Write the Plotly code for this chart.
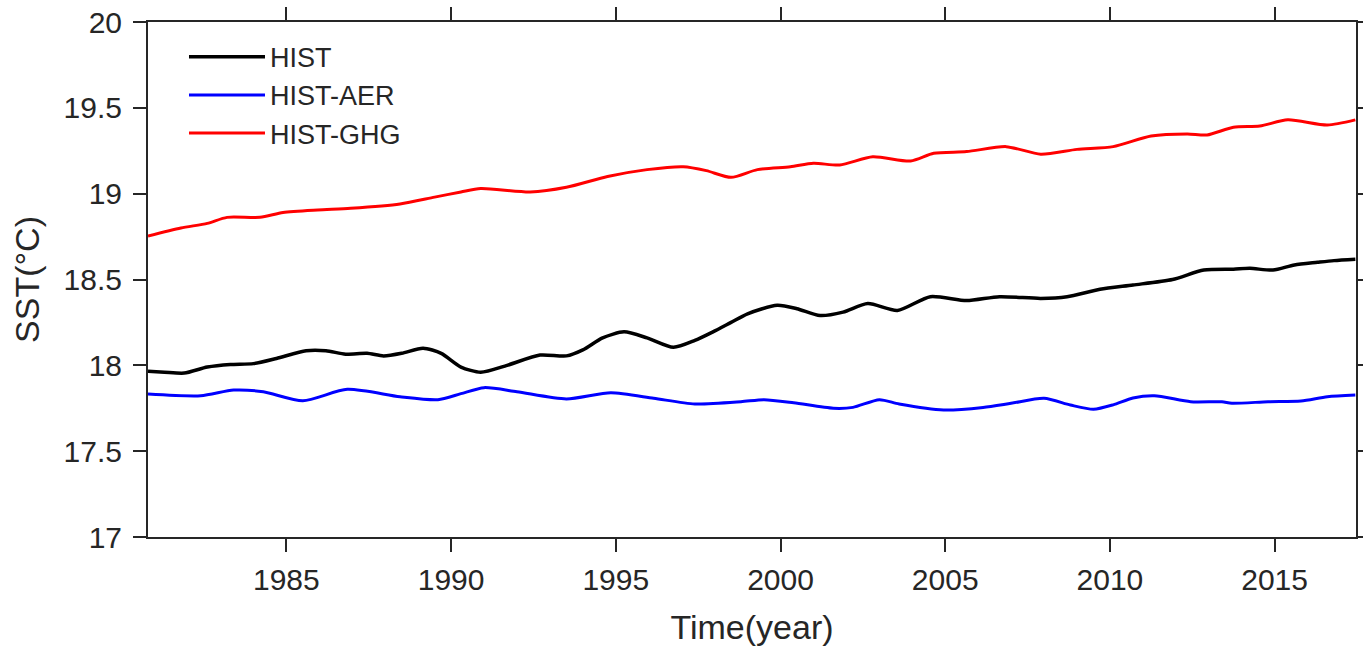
import plotly.graph_objects as go

# --- series data (annual-mean SST, °C) ---
hist_t = [1980.8, 1981.3, 1981.9, 1982.6, 1983.3, 1984.0, 1984.7, 1985.6, 1986.2, 1986.8,
          1987.45, 1987.95, 1988.5, 1989.15, 1989.7, 1990.3, 1990.9, 1991.7, 1992.7, 1993.5,
          1994.0, 1994.6, 1995.25, 1995.95, 1996.75, 1997.4, 1997.95, 1998.5, 1999.0, 1999.9,
          2000.5, 2001.2, 2001.9, 2002.65, 2003.55, 2004.55, 2005.65, 2006.65, 2007.9, 2008.7,
          2009.7, 2010.7, 2011.9, 2012.85, 2013.75, 2014.25, 2014.95, 2015.6, 2016.3, 2016.8,
          2017.45]
hist_v = [17.965, 17.96, 17.955, 17.99, 18.005, 18.01, 18.04, 18.085, 18.085, 18.065,
          18.07, 18.055, 18.07, 18.10, 18.07, 17.99, 17.96, 18.00, 18.06, 18.055,
          18.09, 18.16, 18.195, 18.16, 18.105, 18.145, 18.195, 18.25, 18.30, 18.35,
          18.33, 18.29, 18.31, 18.36, 18.32, 18.40, 18.377, 18.40, 18.39, 18.40,
          18.443, 18.468, 18.50, 18.555, 18.56, 18.565, 18.555, 18.585, 18.60, 18.61,
          18.618]

aer_t = [1980.8, 1982.4, 1983.4, 1984.3, 1985.5, 1986.85, 1988.45, 1989.6, 1990.3, 1991.0,
         1992.0, 1993.5, 1994.85, 1996.15, 1997.4, 1998.8, 1999.5, 2000.4, 2001.6, 2002.2,
         2003.0, 2003.6, 2004.95, 2006.15, 2007.0, 2008.0, 2008.8, 2009.5, 2010.1, 2010.7,
         2011.35, 2012.45, 2013.4, 2013.7, 2014.8, 2015.8, 2016.6, 2017.45]
aer_v = [17.833, 17.823, 17.856, 17.846, 17.794, 17.86, 17.817, 17.80, 17.835, 17.87,
         17.846, 17.804, 17.84, 17.808, 17.775, 17.788, 17.80, 17.782, 17.75, 17.755,
         17.80, 17.775, 17.74, 17.755, 17.779, 17.808, 17.769, 17.744, 17.77, 17.81,
         17.823, 17.788, 17.788, 17.779, 17.788, 17.792, 17.817, 17.827]

ghg_t = [1980.8, 1981.8, 1982.6, 1983.2, 1984.2, 1984.9, 1985.95, 1986.95, 1988.45, 1989.5,
         1990.3, 1990.9, 1992.4, 1993.5, 1994.75, 1995.95, 1997.05, 1997.75, 1998.5, 1999.3,
         2000.3, 2001.0, 2001.8, 2002.8, 2003.95, 2004.65, 2005.65, 2006.85, 2007.9, 2009.0,
         2010.1, 2011.25, 2012.35, 2012.95, 2013.75, 2014.55, 2015.4, 2016.6, 2017.45]
ghg_v = [18.753, 18.80, 18.827, 18.862, 18.862, 18.89, 18.905, 18.915, 18.94, 18.98,
         19.01, 19.03, 19.01, 19.037, 19.10, 19.14, 19.157, 19.134, 19.095, 19.14,
         19.157, 19.177, 19.167, 19.215, 19.19, 19.235, 19.245, 19.274, 19.23, 19.258,
         19.274, 19.336, 19.348, 19.342, 19.387, 19.394, 19.43, 19.40, 19.43]

x_ticks = [1985, 1990, 1995, 2000, 2005, 2010, 2015]
y_ticks = [17, 17.5, 18, 18.5, 19, 19.5, 20]
y_tick_text = ["17", "17.5", "18", "18.5", "19", "19.5", "20"]

FONT = "Liberation Sans, Arial, sans-serif"
INK = "#262626"

fig = go.Figure()
for name, t, v, color, width in [
    ("HIST", hist_t, hist_v, "#000000", 3.5),
    ("HIST-AER", aer_t, aer_v, "#0000ff", 3),
    ("HIST-GHG", ghg_t, ghg_v, "#ff0000", 3),
]:
    fig.add_trace(go.Scatter(
        x=t, y=v, name=name, mode="lines",
        line=dict(color=color, width=width, shape="spline", smoothing=0.7),
    ))

axis_common = dict(
    showline=True, linecolor=INK, linewidth=2, mirror="ticks",
    ticks="outside", ticklen=13, tickwidth=2, tickcolor=INK,
    showgrid=False, zeroline=False, automargin=False,
    tickfont=dict(family=FONT, size=30, color=INK),
)

fig.update_layout(
    width=1363, height=648,
    margin=dict(l=148, r=7, t=22, b=111),
    paper_bgcolor="white", plot_bgcolor="white",
    xaxis=dict(range=[1980.8, 2017.47], tickvals=x_ticks, ticklabelstandoff=2,
               title=dict(text="Time(year)", font=dict(family=FONT, size=34, color=INK), standoff=20),
               **axis_common),
    yaxis=dict(range=[17, 20], tickvals=y_ticks, ticktext=y_tick_text, ticklabelstandoff=5,
               title=dict(text="SST(°C)", font=dict(family=FONT, size=34, color=INK), standoff=14),
               **axis_common),
    legend=dict(x=0.0298, y=0.979, xanchor="left", yanchor="top",
                bgcolor="rgba(0,0,0,0)", itemwidth=76,
                font=dict(family=FONT, size=27, color=INK)),
    showlegend=True,
)

fig.write_html("out.html")
